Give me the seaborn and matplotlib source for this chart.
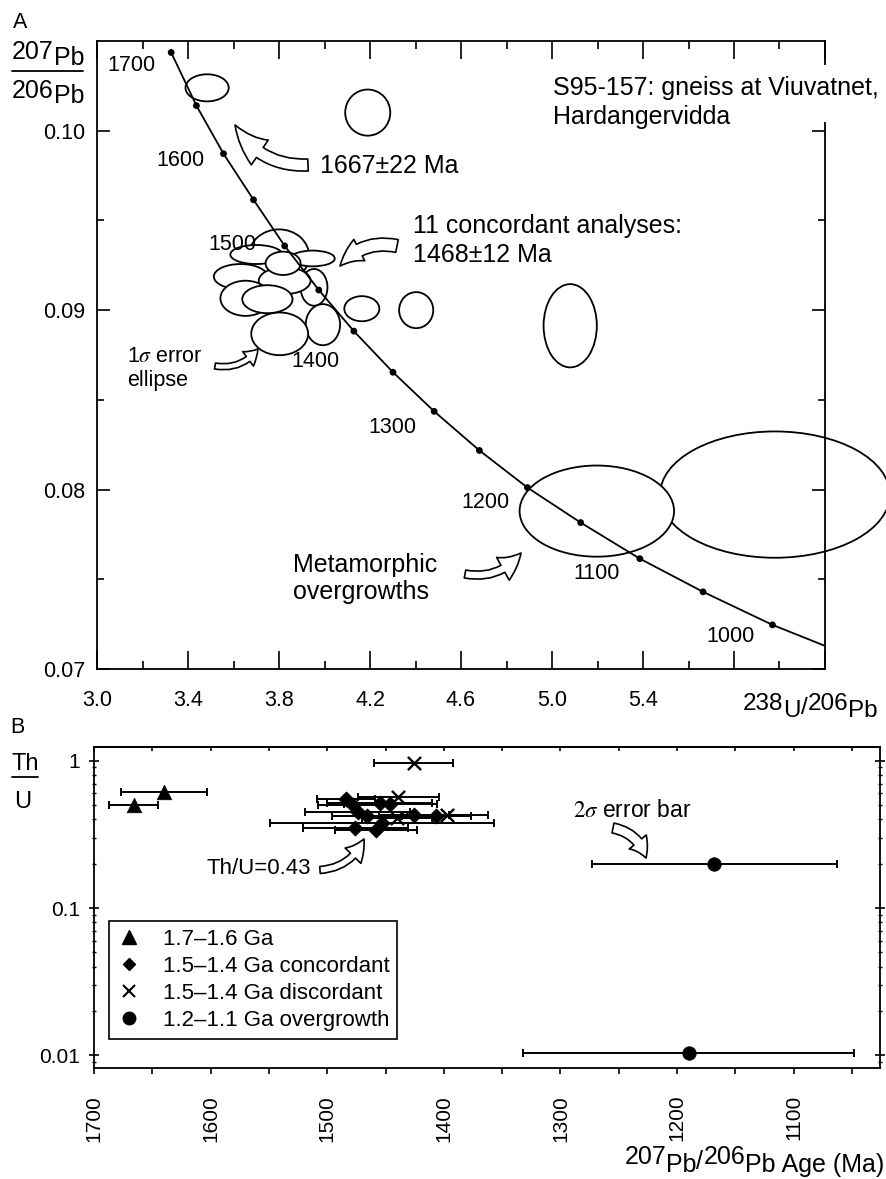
import numpy as np
import pandas as pd
import matplotlib
matplotlib.use("Agg")
import matplotlib.pyplot as plt
import matplotlib.ticker as mticker
from matplotlib.patches import Ellipse, FancyArrowPatch, ArrowStyle, Rectangle
from matplotlib.lines import Line2D
import seaborn as sns

# ---------------- data: panel A (concordia diagram) ----------------
conc_age = [1700, 1650, 1600, 1550, 1500, 1450, 1400, 1350, 1300, 1250, 1200, 1150, 1100, 1050, 1000]
conc_x = [3.326, 3.437, 3.556, 3.688, 3.825, 3.975, 4.129, 4.301, 4.482, 4.681, 4.892, 5.126, 5.386, 5.664, 5.969]
conc_y = [0.10436, 0.10140, 0.09872, 0.09615, 0.09358, 0.09112, 0.08883, 0.08654, 0.08436, 0.08218,
          0.08011, 0.07816, 0.07615, 0.07430, 0.07246]
curve_end_x = 6.2
curve_end_y = 0.07129
labelled_ages = [1700, 1600, 1500, 1400, 1300, 1200, 1100, 1000]

# error ellipses (centre x, centre y, full width, full height), in drawing order
ell_x = [3.484, 4.190, 4.164, 4.403, 5.080, 5.980, 5.197,
         3.800, 3.700, 3.948, 3.954, 3.993, 3.803, 3.631, 3.825, 3.818, 3.653, 3.749]
ell_y = [0.10239, 0.10101, 0.09008, 0.09000, 0.08913, 0.07972, 0.07880,
         0.09302, 0.09310, 0.09288, 0.09127, 0.08919, 0.08868, 0.09187, 0.09164, 0.09261, 0.09066, 0.09061]
ell_w = [0.190, 0.198, 0.154, 0.150, 0.234, 1.010, 0.679,
         0.265, 0.228, 0.194, 0.118, 0.151, 0.250, 0.235, 0.228, 0.154, 0.221, 0.221]
ell_h = [0.00151, 0.00257, 0.00140, 0.00201, 0.00464, 0.00704, 0.00508,
         0.00296, 0.00106, 0.00088, 0.00205, 0.00229, 0.00238, 0.00140, 0.00149, 0.00130, 0.00196, 0.00156]

# ---------------- data: panel B (Th/U vs age) ----------------
tri_age = [1666, 1640]
tri_thu = [0.50, 0.61]
tri_err = [21, 37]
dia_age = [1484, 1478, 1455, 1446, 1474, 1466, 1453, 1476, 1458, 1426, 1407]
dia_thu = [0.55, 0.50, 0.52, 0.51, 0.45, 0.42, 0.38, 0.35, 0.34, 0.43, 0.42]
dia_err = [25, 30, 45, 40, 45, 30, 96, 45, 35, 30, 30]
dis_age = [1426, 1439, 1440, 1397]
dis_thu = [0.96, 0.57, 0.41, 0.43]
dis_err = [34, 35, 30, 35]
ovg_age = [1168, 1190]
ovg_thu = [0.20, 0.0103]
ovg_err = [105, 142]
group_labels = ["1.7\u20131.6 Ga", "1.5\u20131.4 Ga concordant",
                "1.5\u20131.4 Ga discordant", "1.2\u20131.1 Ga overgrowth"]

# ---------------- style ----------------
sns.set_theme(style="ticks")
plt.rcParams["font.family"] = ["Liberation Sans", "DejaVu Sans"]
plt.rcParams["mathtext.fontset"] = "stix"
plt.rcParams["axes.linewidth"] = 1.2
plt.rcParams["axes.edgecolor"] = "black"
plt.rcParams["xtick.color"] = "black"
plt.rcParams["ytick.color"] = "black"
plt.rcParams["text.color"] = "black"

W, H = 887, 1179
fig = plt.figure(figsize=(W / 100, H / 100), dpi=100)
fig.patch.set_facecolor("white")


def fx(x):
    return x / W


def fy(y):
    return 1 - y / H


axa = fig.add_axes([fx(97), fy(669), (825 - 97) / W, (669 - 41) / H])
axb = fig.add_axes([fx(94), fy(1068), (880 - 94) / W, (1068 - 747) / H])
for ax in (axa, axb):
    ax.set_facecolor("white")
    ax.set_axisbelow(False)
    for s in ax.spines.values():
        s.set_visible(True)
        s.set_linewidth(1.3)
        s.set_color("black")

# ---------------- panel A ----------------
for x, y, w, h in zip(ell_x, ell_y, ell_w, ell_h):
    axa.add_patch(Ellipse((x, y), w, h, facecolor="white", edgecolor="black",
                          lw=1.3, zorder=1, clip_on=False))

sns.lineplot(x=conc_x + [curve_end_x], y=conc_y + [curve_end_y], sort=False, estimator=None,
             color="black", lw=1.3, ax=axa, zorder=3)
sns.scatterplot(x=conc_x, y=conc_y, color="black", s=24, edgecolor="none", ax=axa, zorder=4,
                legend=False)

label_offsets = {1700: (-40, -13), 1600: (-43, -7), 1500: (-52, 1), 1400: (-38, -30),
                 1300: (-42, -16), 1200: (-42, -15), 1100: (-43, -15), 1000: (-42, -12)}
for age in labelled_ages:
    i = conc_age.index(age)
    axa.annotate(str(age), (conc_x[i], conc_y[i]), xytext=label_offsets[age],
                 textcoords="offset pixels", ha="center", va="center", fontsize=15.5, zorder=5)

axa.set_xlim(3.0, 6.2)
axa.set_ylim(0.07, 0.105)
axa.xaxis.set_major_locator(mticker.FixedLocator([3.0 + 0.4 * k for k in range(9)]))
axa.xaxis.set_minor_locator(mticker.FixedLocator([3.2 + 0.4 * k for k in range(8)]))
axa.xaxis.set_major_formatter(mticker.FuncFormatter(lambda v, p: f"{v:.1f}" if v < 5.5 else ""))
axa.yaxis.set_major_locator(mticker.FixedLocator([0.07, 0.08, 0.09, 0.10]))
axa.yaxis.set_minor_locator(mticker.FixedLocator([0.075, 0.085, 0.095]))
axa.yaxis.set_major_formatter(mticker.FuncFormatter(lambda v, p: f"{v:.2f}"))
axa.tick_params(axis="x", which="major", direction="in", length=13, width=1.2, top=True,
                bottom=True, labelsize=15.5, pad=15)
axa.tick_params(axis="x", which="minor", direction="in", length=6, width=1.2, top=True, bottom=True)
axa.tick_params(axis="y", which="major", direction="in", length=9.5, width=1.2, left=True,
                right=True, labelsize=15.5, pad=8.5)
axa.tick_params(axis="y", which="minor", direction="in", length=5, width=1.2, left=True, right=True)
axa.set_xlabel("")
axa.set_ylabel("")

# ---------------- panel B ----------------
df = pd.DataFrame({
    "age": tri_age + dia_age + dis_age + ovg_age,
    "thu": tri_thu + dia_thu + dis_thu + ovg_thu,
    "err": tri_err + dia_err + dis_err + ovg_err,
    "group": [group_labels[0]] * len(tri_age) + [group_labels[1]] * len(dia_age)
             + [group_labels[2]] * len(dis_age) + [group_labels[3]] * len(ovg_age),
})
axb.set_yscale("log")
axb.errorbar(df["age"], df["thu"], xerr=df["err"], fmt="none", ecolor="black",
             elinewidth=1.4, capsize=3, capthick=1.4, zorder=2)
marker_spec = {group_labels[0]: ("^", 110), group_labels[1]: ("D", 60),
               group_labels[2]: ("x", 90), group_labels[3]: ("o", 95)}
for g in group_labels:
    m, s = marker_spec[g]
    sub = df[df["group"] == g]
    if m == "x":
        sns.scatterplot(data=sub, x="age", y="thu", marker=m, s=s, color="black",
                        linewidth=1.7, ax=axb, zorder=3, legend=False)
    else:
        sns.scatterplot(data=sub, x="age", y="thu", marker=m, s=s, color="black",
                        edgecolor="black", linewidth=0.5, ax=axb, zorder=3, legend=False)

axb.set_xlim(1700, 1026)
axb.set_ylim(0.0082, 1.24)
axb.xaxis.set_major_locator(mticker.MultipleLocator(100))
axb.xaxis.set_minor_locator(mticker.MultipleLocator(50))
axb.xaxis.set_major_formatter(mticker.FuncFormatter(lambda v, p: f"{v:.0f}"))
axb.set_yticks([0.01, 0.1, 1])
axb.set_yticklabels(["0.01", "0.1", "1"])
axb.yaxis.set_minor_locator(mticker.LogLocator(base=10, subs=np.arange(2, 10)))
axb.yaxis.set_minor_formatter(mticker.NullFormatter())
axb.tick_params(axis="x", which="both", direction="out", length=4.3, width=1.2, bottom=True,
                top=False, labelsize=15, pad=15, labelrotation=90)
axb.tick_params(axis="y", which="major", direction="inout", length=6.5, width=1.2, left=True,
                right=True, labelsize=15, pad=6.5)
axb.tick_params(axis="y", which="minor", direction="inout", length=3, width=1.0, left=True,
                right=True)
sec = axb.secondary_xaxis("top")
sec.xaxis.set_major_locator(mticker.MultipleLocator(100))
sec.xaxis.set_minor_locator(mticker.MultipleLocator(50))
sec.tick_params(axis="x", which="both", direction="in", length=3.2, width=1.2, labeltop=False)
sec.spines["top"].set_linewidth(1.3)
axb.set_xlabel("")
axb.set_ylabel("")

handles = [
    Line2D([], [], marker="^", ls="none", color="black", ms=10),
    Line2D([], [], marker="D", ls="none", color="black", ms=6.5),
    Line2D([], [], marker="x", ls="none", color="black", ms=8, mew=1.5),
    Line2D([], [], marker="o", ls="none", color="black", ms=9),
]
leg = axb.legend(handles, group_labels, loc="upper left", bbox_to_anchor=(0.019, 0.458),
                 frameon=True, fancybox=False, edgecolor="black", framealpha=1, fontsize=16,
                 handlelength=1.1, handletextpad=0.97, borderpad=0.35, labelspacing=0.27,
                 borderaxespad=0, numpoints=1)
leg.get_frame().set_linewidth(1.2)

# ---------------- text & annotations ----------------
renderer = fig.canvas.get_renderer()


def rich_text(x, y, pieces, size, align="left"):
    arts = []
    total = 0
    for s, dy in pieces:
        t = fig.text(0, 0, s, fontsize=size, va="baseline", ha="left", zorder=6)
        w = t.get_window_extent(renderer).width
        arts.append((t, dy, w))
        total += w
    x0 = x - total if align == "right" else x
    for t, dy, w in arts:
        t.set_position((fx(x0), fy(y - dy)))
        x0 += w


def T(x, y, s, size, **kw):
    fig.text(fx(x), fy(y), s, fontsize=size, va="baseline", ha="left", zorder=6, **kw)


def hline(x0, x1, y):
    fig.add_artist(Line2D([fx(x0), fx(x1)], [fy(y), fy(y)], transform=fig.transFigure,
                          color="black", lw=1.3))


def arrow(tail, tip, hl, hw, tw, rad):
    a = FancyArrowPatch((fx(tail[0]), fy(tail[1])), (fx(tip[0]), fy(tip[1])),
                        transform=fig.transFigure,
                        arrowstyle=ArrowStyle.Simple(head_length=hl * 0.72, head_width=hw * 0.72,
                                                     tail_width=tw * 0.72),
                        connectionstyle=f"arc3,rad={rad}", mutation_scale=1,
                        facecolor="white", edgecolor="black", lw=1.2, shrinkA=0, shrinkB=0,
                        zorder=7)
    fig.add_artist(a)


# panel letters
T(13, 28, "A", 15.5)
T(10, 733, "B", 15.5)

# panel A y label (fraction)
rich_text(12, 65, [("207", 6), ("Pb", 0)], 18)
hline(12, 83, 71)
rich_text(12, 103, [("206", 5), ("Pb", 0)], 18)

# panel A x label
rich_text(743, 717, [("238", 7), ("U", 0), ("/", 3), ("206", 7), ("Pb", 0)], 17.5)

# sample title with white background over the right spine
fig.add_artist(Rectangle((fx(548), fy(122)), (887 - 548) / W, (122 - 65) / H,
                         transform=fig.transFigure, facecolor="white", edgecolor="none", zorder=5))
T(553, 95, "S95-157: gneiss at Viuvatnet,", 18)
T(553, 124, "Hardangervidda", 18)

T(320, 173, "1667\u00b122 Ma", 18)
T(413, 233, "11 concordant analyses:", 18)
T(413, 262, "1468\u00b112 Ma", 18)
T(127, 362, "1$\\sigma$ error", 15.5)
T(127, 386, "ellipse", 15.5)
T(293, 572, "Metamorphic", 18)
T(293, 599, "overgrowths", 18)

arrow((308, 165), (235, 125), 37, 30, 12, -0.3)
arrow((397, 246), (340, 266), 25, 24, 13, 0.3)
arrow((215, 366), (258, 349), 14, 18, 6, 0.3)
arrow((465, 574), (521, 553), 24, 26, 8, 0.3)

# panel B labels
T(12, 770, "Th", 17)
hline(12, 38, 777)
T(14, 808, "U", 17)
rich_text(884, 1172, [("207", 8), ("Pb", 0), ("/", 3), ("206", 8), ("Pb", 0), (" Age (Ma)", 0)],
          18, align="right")
T(207, 874, "Th/U=0.43", 16)
T(573, 817, "$2\\sigma$ error bar", 16.5)
arrow((320, 870), (364, 839), 20, 22, 7, 0.3)
arrow((613, 828), (646, 858), 18, 22, 10, -0.3)

fig.savefig("out.png", dpi=100, facecolor="white")
